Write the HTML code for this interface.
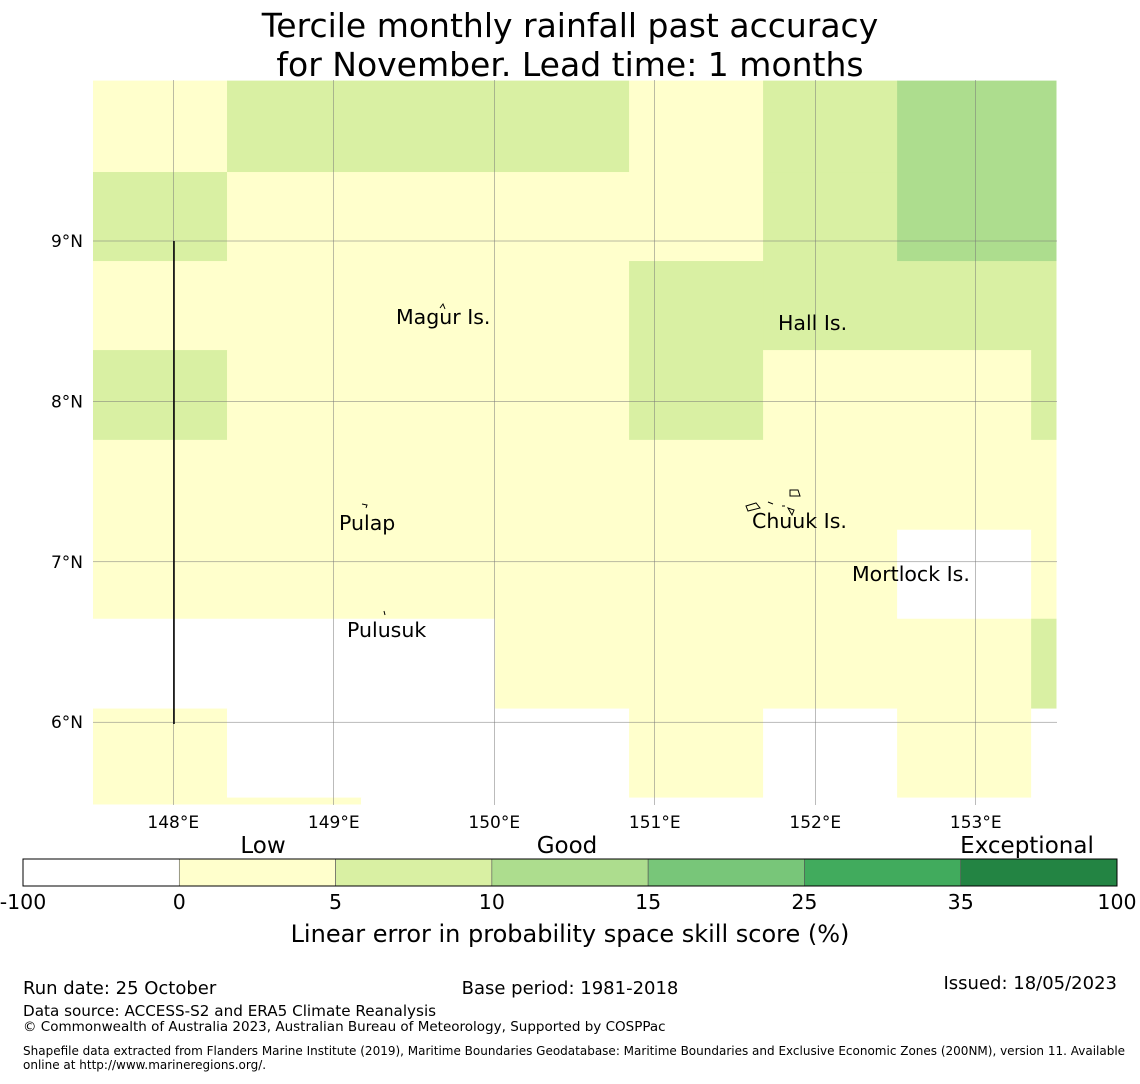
<!DOCTYPE html>
<html><head><meta charset="utf-8"><style>
body{margin:0;background:#fff;font-family:"DejaVu Sans","Liberation Sans",sans-serif;}
svg text{font-family:"DejaVu Sans","Liberation Sans",sans-serif;}
</style></head><body>
<svg id="chart" width="1140" height="1080" xmlns="http://www.w3.org/2000/svg">
<text x="570" y="37" text-anchor="middle" font-size="33">Tercile monthly rainfall past accuracy</text>
<text x="570" y="76" text-anchor="middle" font-size="33">for November. Lead time: 1 months</text>
<g id="cells"></g>
<g id="grid"></g>
<line x1="174" y1="241" x2="174" y2="724" stroke="#000" stroke-width="1.5"/>
<g id="islands" font-size="20.5">
<text x="396" y="324">Magur Is.</text>
<text x="778" y="330">Hall Is.</text>
<text x="339" y="530">Pulap</text>
<text x="752" y="528">Chuuk Is.</text>
<text x="852" y="581">Mortlock Is.</text>
<text x="347" y="637">Pulusuk</text>
<path d="M790 490 l8 0 l2 6 l-10 0z M746 506 l10 -3 l4 5 l-12 3z M768 502 l5 2 M782 506 l3 0 M788 508 l6 2 l-2 5z M440 308 l3 -4 l2 5 M362 504 l5 1 l-1 3 M384 611 l1 4" fill="none" stroke="#000" stroke-width="1"/>
</g>
<g id="ticks" font-size="17"></g>
<g id="cbar"></g>
<text x="263" y="853" text-anchor="middle" font-size="23">Low</text>
<text x="567" y="853" text-anchor="middle" font-size="23">Good</text>
<text x="1027" y="853" text-anchor="middle" font-size="23">Exceptional</text>
<text x="570" y="942" text-anchor="middle" font-size="24">Linear error in probability space skill score (%)</text>
<text x="23" y="994" font-size="18">Run date: 25 October</text>
<text x="570" y="994" text-anchor="middle" font-size="18">Base period: 1981-2018</text>
<text x="1117" y="989" text-anchor="end" font-size="18">Issued: 18/05/2023</text>
<text x="23" y="1016" font-size="15.2">Data source: ACCESS-S2 and ERA5 Climate Reanalysis</text>
<text x="23" y="1031" font-size="13.5">© Commonwealth of Australia 2023, Australian Bureau of Meteorology, Supported by COSPPac</text>
<text x="23" y="1055" font-size="12">Shapefile data extracted from Flanders Marine Institute (2019), Maritime Boundaries Geodatabase: Maritime Boundaries and Exclusive Economic Zones (200NM), version 11. Available</text>
<text x="23" y="1069" font-size="12">online at http://www.marineregions.org/.</text>
</svg>
<script>
const lonTicks=[148,149,150,151,152,153];
const latTicks=[6,7,8,9];
const colBounds=[147.5,148.335,149.17,150.005,150.84,151.675,152.51,153.345,153.5];
const rowBounds=[10.0,9.43,8.875,8.32,7.76,7.2,6.645,6.085,5.53,5.49];
// skill category per cell: 0 white,1 pale yellow,2 light green,3 green
const skillRows=[
[1,2,2,2,1,2,3,3],
[2,1,1,1,1,2,3,3],
[1,1,1,1,2,2,2,2],
[2,1,1,1,2,1,1,2],
[1,1,1,1,1,1,1,1],
[1,1,1,1,1,1,0,1],
[0,0,0,1,1,1,1,2],
[1,0,0,0,1,0,1,0],
[1,1,0,0,0,0,0,0]];
const cbarLabels=["-100","0","5","10","15","25","35","100"];
const cbarColors=["#ffffff","#ffffcc","#d9f0a3","#addd8e","#78c679","#41ab5d","#238443"];
const X=lon=>93+(lon-147.5)*160.5;
const Y=lat=>241+(9-lat)*160.4;
const NS="http://www.w3.org/2000/svg";
function mk(t,a,p){const e=document.createElementNS(NS,t);for(const k in a)e.setAttribute(k,a[k]);p.appendChild(e);return e;}
const cells=document.getElementById('cells');
skillRows.forEach((row,r)=>row.forEach((v,c)=>{
 const x0=X(colBounds[c]),x1=X(colBounds[c+1]),y0=Y(rowBounds[r]),y1=Y(rowBounds[r+1]);
 const e=mk('rect',{x:x0,y:y0,width:x1-x0+0.5,height:y1-y0+0.5,fill:cbarColors[v]},cells);
 
 
}));
const grid=document.getElementById('grid'),ticks=document.getElementById('ticks');
lonTicks.forEach(l=>{
 const g=mk('line',{x1:X(l),x2:X(l),y1:80,y2:805,stroke:'#777','stroke-width':0.5},grid);
 
 
 const t=mk('text',{x:X(l),y:828,'text-anchor':'middle'},ticks);t.textContent=l+'°E';
 
 
});
latTicks.forEach(l=>{
 const g=mk('line',{x1:93,x2:1057,y1:Y(l),y2:Y(l),stroke:'#777','stroke-width':0.5},grid);
 
 
 const t=mk('text',{x:83,y:Y(l)+6,'text-anchor':'end'},ticks);t.textContent=l+'°N';
 
 
});
const cbar=document.getElementById('cbar');
const cw=(1117-23)/cbarColors.length;
cbarColors.forEach((c,i)=>{
 const e=mk('rect',{x:23+i*cw,y:859,width:cw,height:27,fill:c,stroke:'#555','stroke-width':0.6},cbar);
 
 
});
mk('rect',{x:23,y:859,width:1094,height:27,fill:'none',stroke:'#000','stroke-width':1},cbar);
cbarLabels.forEach((s,i)=>{
 const t=mk('text',{x:23+i*cw,y:909,'text-anchor':'middle','font-size':20.5},cbar);t.textContent=s;
 
 
});
</script>
</body></html>
